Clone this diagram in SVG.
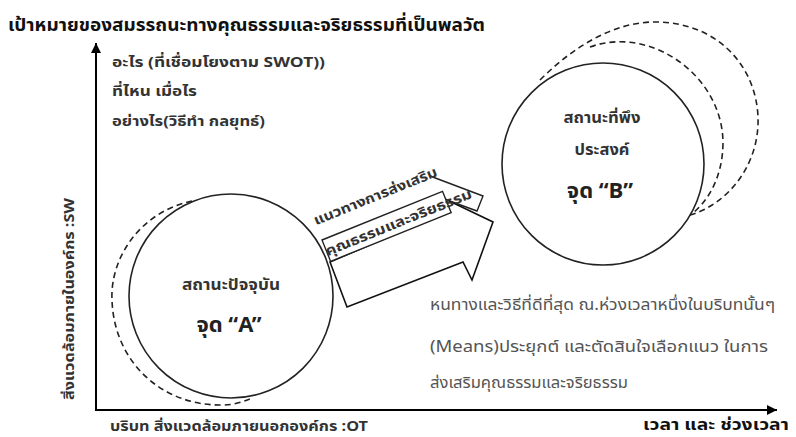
<svg xmlns="http://www.w3.org/2000/svg" width="796" height="437" viewBox="0 0 796 437">
<style>
text{font-family:"Noto Sans Thai","Noto Sans","DejaVu Sans",sans-serif}
.ax{stroke:#000;stroke-width:2;fill:none}
.solid{stroke:#222;stroke-width:1.6;fill:#fff}
.dash{stroke:#222;stroke-width:1.6;fill:none;stroke-dasharray:6 4}
.title{font-size:18px;font-weight:bold;fill:#111}
.q{font-size:14.5px;font-weight:bold;fill:#333}
.ct{font-size:15px;font-weight:bold;fill:#333;text-anchor:middle}
.big{font-size:22px;font-weight:bold;fill:#222;text-anchor:middle}
.desc{font-size:15.5px;fill:#555}
.lbl{font-size:14px;font-weight:bold;fill:#333}
.box{stroke:#222;stroke-width:1.4;fill:#fff}
</style>
<defs>
<marker id="ah" viewBox="0 0 10 10" refX="10" refY="5" markerWidth="10" markerHeight="10" markerUnits="userSpaceOnUse" orient="auto">
<path d="M0,0 L10,5 L0,10 z" fill="#000"/>
</marker>
</defs>
<g id="axes">
<line class="ax" x1="96" y1="411" x2="96" y2="43" marker-end="url(#ah)"/>
<line class="ax" x1="95" y1="410" x2="777" y2="410" marker-end="url(#ah)"/>
</g>
<text class="title" x="8" y="31" textLength="477" lengthAdjust="spacingAndGlyphs">เป้าหมายของสมรรถนะทางคุณธรรมและจริยธรรมที่เป็นพลวัต</text>
<g id="questions">
<text class="q" x="112" y="67" textLength="213" lengthAdjust="spacingAndGlyphs">อะไร (ที่เชื่อมโยงตาม SWOT))</text>
<text class="q" x="112" y="96" textLength="85" lengthAdjust="spacingAndGlyphs">ที่ไหน เมื่อไร</text>
<text class="q" x="112" y="126" textLength="153" lengthAdjust="spacingAndGlyphs">อย่างไร(วิธีทำ กลยุทธ์)</text>
</g>
<g id="nodeA">
<path class="dash" d="M192,201 C140,212 110,258 112,300 C114,362 162,406 222,405 C234,405 242,402 250,399"/>
<circle class="solid" cx="231" cy="296" r="102"/>
<text class="ct" x="231" y="290" textLength="98" lengthAdjust="spacingAndGlyphs">สถานะปัจจุบัน</text>
<text class="big" x="229" y="332">จุด “A”</text>
</g>
<g id="nodeB">
<path class="dash" d="M540,80 C575,45 615,22 655,22 C720,22 760,70 758,125 C756,170 725,205 690,215"/>
<path class="dash" d="M590,47 C650,25 722,75 723,142 C723,180 705,205 690,215"/>
<circle class="solid" cx="603" cy="164" r="101"/>
<text class="ct" x="602" y="123" textLength="77" lengthAdjust="spacingAndGlyphs">สถานะที่พึง</text>
<text class="ct" x="602" y="155" textLength="55" lengthAdjust="spacingAndGlyphs">ประสงค์</text>
<text class="big" x="600" y="198">จุด “B”</text>
</g>
<g id="connectors">
<polyline points="430,176 483,196 477,211 447,200" fill="none" stroke="#222" stroke-width="1.4"/>
<polygon points="330,262 447,212 443,198 493,222 472,280 463,262 347,307" fill="#fff" stroke="#111" stroke-width="1.6" stroke-linejoin="miter"/>
</g>
<g id="arrowLabel" transform="rotate(-22 322 240)">
<rect class="box" x="322" y="240" width="130" height="23"/>
<text class="lbl" x="322" y="224" textLength="132" lengthAdjust="spacingAndGlyphs">แนวทางการส่งเสริม</text>
<text class="lbl" x="321" y="257" textLength="157" lengthAdjust="spacingAndGlyphs">คุณธรรมและจริยธรรม</text>
</g>
<g id="means">
<text class="desc" x="430" y="310" textLength="345" lengthAdjust="spacingAndGlyphs">หนทางและวิธีที่ดีที่สุด ณ.ห่วงเวลาหนึ่งในบริบทนั้นๆ</text>
<text class="desc" x="430" y="352" textLength="338" lengthAdjust="spacingAndGlyphs">(Means)ประยุกต์ และตัดสินใจเลือกแนว ในการ</text>
<text class="desc" x="430" y="388" textLength="198" lengthAdjust="spacingAndGlyphs">ส่งเสริมคุณธรรมและจริยธรรม</text>
</g>
<g id="axisLabels">
<text class="lbl" x="110" y="431" font-size="15" textLength="258" lengthAdjust="spacingAndGlyphs">บริบท สิ่งแวดล้อมภายนอกองค์กร :OT</text>
<text x="643" y="430" font-size="16" font-weight="bold" fill="#111" textLength="146" lengthAdjust="spacingAndGlyphs">เวลา และ ช่วงเวลา</text>
<text class="lbl" transform="translate(74 400) rotate(-90)" x="0" y="0" font-size="15" textLength="202" lengthAdjust="spacingAndGlyphs">สิ่งแวดล้อมภายในองค์กร :SW</text>
</g>
</svg>
